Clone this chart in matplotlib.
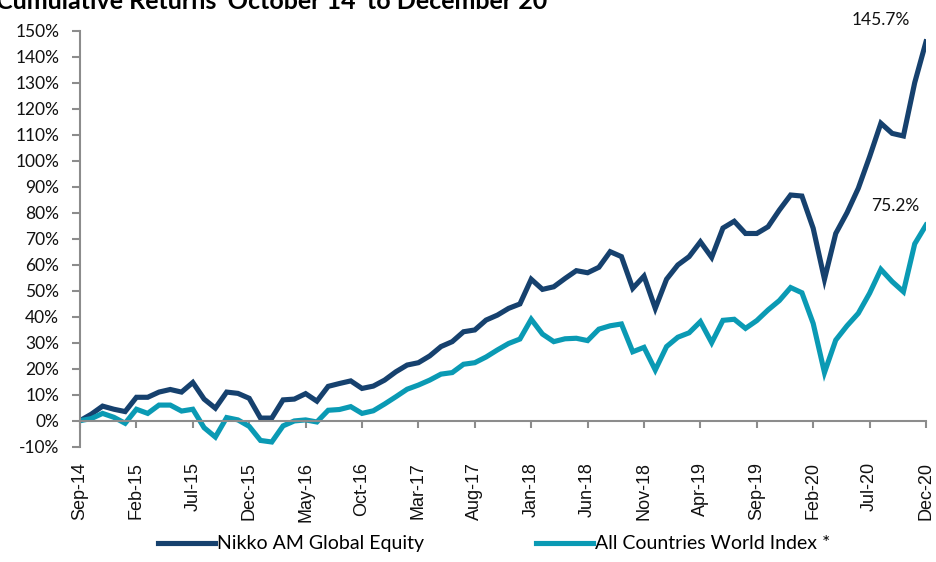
import numpy as np
import matplotlib
matplotlib.use("Agg")
import matplotlib.pyplot as plt

# monthly cumulative returns (%), Sep-14 .. Dec-20
nikko = [0.0, 2.5, 5.6, 4.4, 3.5, 9.0, 9.0, 11.0, 12.0, 11.0,
         14.7, 8.3, 4.8, 11.0, 10.5, 8.6, 1.0, 1.0, 8.0, 8.3,
         10.4, 7.5, 13.2, 14.3, 15.3, 12.4, 13.3, 15.6, 18.8, 21.4,
         22.3, 24.9, 28.5, 30.4, 34.2, 34.9, 38.7, 40.6, 43.2, 44.9,
         54.4, 50.5, 51.5, 54.7, 57.7, 56.9, 59.0, 65.0, 63.1, 50.9,
         55.6, 43.2, 54.4, 59.9, 63.1, 68.8, 62.8, 74.1, 76.7, 72.0,
         72.0, 74.6, 81.0, 86.8, 86.4, 74.0, 54.4, 72.0, 80.0, 89.4,
         101.5, 114.4, 110.5, 109.5, 130.0, 145.7]
acwi = [0.0, 0.8, 2.8, 1.3, -1.0, 4.4, 2.8, 6.0, 6.0, 3.7,
        4.4, -2.7, -6.3, 1.2, 0.3, -2.2, -7.6, -8.2, -2.0, -0.1,
        0.3, -0.5, 4.0, 4.3, 5.4, 2.8, 3.8, 6.4, 9.2, 12.1,
        13.7, 15.6, 17.9, 18.5, 21.7, 22.3, 24.5, 27.2, 29.7, 31.4,
        39.0, 33.3, 30.4, 31.5, 31.7, 30.8, 35.2, 36.5, 37.2, 26.5,
        28.2, 19.5, 28.5, 32.1, 33.8, 38.1, 30.0, 38.6, 39.0, 35.5,
        38.5, 42.6, 46.2, 51.2, 49.2, 37.4, 18.5, 31.0, 36.5, 41.3,
        49.0, 58.2, 53.5, 49.6, 68.0, 75.2]
tick_labels = ['Sep-14', 'Feb-15', 'Jul-15', 'Dec-15', 'May-16', 'Oct-16',
               'Mar-17', 'Aug-17', 'Jan-18', 'Jun-18', 'Nov-18', 'Apr-19',
               'Sep-19', 'Feb-20', 'Jul-20', 'Dec-20']
series_names = ['Nikko AM Global Equity', 'All Countries World Index *']
end_labels = ['145.7%', '75.2%']

dark = '#16416E'
teal = '#0A9AB4'
grey = '#8C8C8C'

plt.rcParams['font.family'] = ['Lato', 'DejaVu Sans']

fig = plt.figure(figsize=(9.36, 5.62), dpi=100)
ax = fig.add_axes([0.0855, 0.2052, 0.9038, 0.7402])

x = np.arange(len(nikko))
ax.plot(x, nikko, color=dark, lw=3.7, solid_joinstyle='miter', label=series_names[0])
ax.plot(x, acwi, color=teal, lw=3.7, solid_joinstyle='miter', label=series_names[1])

ax.set_xlim(0, len(nikko) - 1)
ax.set_ylim(-10, 150)
ax.set_yticks(np.arange(-10, 151, 10))
ax.set_yticklabels(['%d%%' % v for v in np.arange(-10, 151, 10)])

for s in ['top', 'right']:
    ax.spines[s].set_visible(False)
ax.spines['left'].set_color(grey)
ax.spines['left'].set_linewidth(1.5)
ax.spines['bottom'].set_color(grey)
ax.spines['bottom'].set_linewidth(1.5)
ax.spines['bottom'].set_position(('data', 0))

ticks = np.arange(0, len(nikko), 5)
ax.set_xticks(ticks)
ax.tick_params(axis='x', direction='out', length=5, width=1.5, color=grey,
               labelbottom=False)
ax.tick_params(axis='y', direction='out', length=6, width=1.5, color=grey,
               labelsize=12.5, pad=9, labelcolor='#111111')

# date labels sit below the plot, not on the zero line
sec = ax.secondary_xaxis('bottom')
sec.set_xticks(ticks)
sec.set_xticklabels(tick_labels, rotation=90, fontsize=13,
                    family=['Liberation Sans', 'DejaVu Sans'])
sec.tick_params(length=0, pad=11, labelcolor='#111111')
sec.spines['bottom'].set_visible(False)

ax.text(x[-1] - 4, nikko[-1] + 6.5, end_labels[0], fontsize=12.5, ha='center', color='#111111')
ax.text(x[-1] - 2.7, acwi[-1] + 5.5, end_labels[1], fontsize=12.5, ha='center', color='#111111')

fig.text(-0.004, 0.984, "Cumulative Returns 'October 14' to December 20",
         fontsize=18, fontweight='bold', va='baseline', ha='left')

fig.legend(loc='lower center', bbox_to_anchor=(0.528, -0.014), ncol=2,
           frameon=False, fontsize=14, handlelength=2.9, handletextpad=0.1,
           columnspacing=5.8)

fig.savefig('out.png', dpi=100)
